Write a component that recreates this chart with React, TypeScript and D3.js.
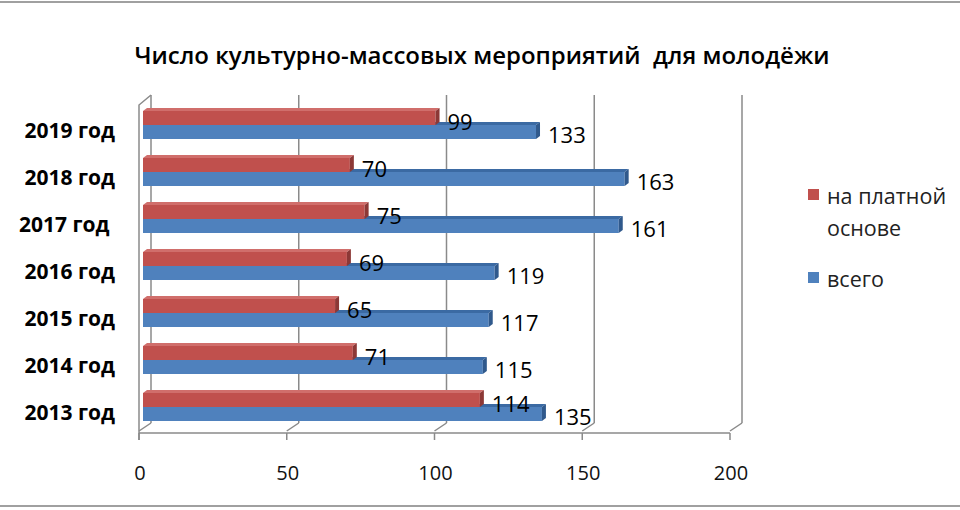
import React from "react";
import * as d3 from "d3";

const title = "Число культурно-массовых мероприятий  для молодёжи";
const categories = ["2013 год", "2014 год", "2015 год", "2016 год", "2017 год ", "2018 год", "2019 год"];
const paid = [114, 71, 65, 69, 75, 70, 99];
const total = [135, 115, 117, 119, 161, 163, 133];
const xTicks = [0, 50, 100, 150, 200];
const seriesNames = ["на платной основе", "всего"];
const legendLines = [["на платной", "основе"], ["всего"]];

const W = 960;
const H = 510;
const RED = "#c0504d";
const RED_DARK = "#8c3836";
const RED_TOP = "#d06e6b";
const BLUE = "#4f81bd";
const BLUE_DARK = "#30598c";
const BLUE_TOP = "#3b6aa3";
const GRID = "#8a8a8a";
const FONT = "'Open Sans', 'Noto Sans', sans-serif";

export default function App() {
  const xFront = d3.scaleLinear().domain([0, 200]).range([139, 730]);
  const depthX = 12;
  const depthY = 10;
  const xBar = d3.scaleLinear().domain([0, 200]).range([143, 734]);
  const y = d3
    .scaleBand<string>()
    .domain([...categories].reverse())
    .range([101.5, 430.5])
    .padding(0);
  const floorY = 433;
  const wallTop = 95;

  const bd = 4;
  const bdy = 3;
  const barH = 14;

  const bar = (v: number, yTop: number, col: string, dark: string, top: string, key: string) => {
    const x0 = xBar(0);
    const x1 = xBar(v);
    const yB = yTop + barH;
    return (
      <g key={key}>
        <polygon
          points={`${x0},${yTop} ${x1},${yTop} ${x1 + bd},${yTop - bdy} ${x0 + bd},${yTop - bdy}`}
          fill={top}
        />
        <rect x={x0} y={yTop} width={x1 - x0} height={barH} fill={col} />
        <polygon
          points={`${x1},${yTop} ${x1 + bd},${yTop - bdy} ${x1 + bd},${yB - bdy} ${x1},${yB}`}
          fill={dark}
        />
      </g>
    );
  };

  return (
    <div style={{ position: "absolute", left: 0, top: 0 }}>
      <svg width={W} height={H} style={{ display: "block", background: "#fff" }}>
        <line x1={0} x2={W} y1={2} y2={2} stroke="#a0a0a0" strokeWidth={2} />
        <line x1={0} x2={W} y1={506} y2={506} stroke="#a0a0a0" strokeWidth={2} />

        <text
          x={482}
          y={55}
          textAnchor="middle"
          dominantBaseline="central"
          fontFamily={FONT}
          fontWeight={600}
          fontSize={22.5}
          fill="#000"
          textLength={695}
          lengthAdjust="spacingAndGlyphs"
          style={{ whiteSpace: "pre" }}
        >
          {title}
        </text>

        {xTicks.map((t) => (
          <line
            key={"g" + t}
            x1={xFront(t) + depthX}
            x2={xFront(t) + depthX}
            y1={wallTop}
            y2={floorY - depthY}
            stroke={GRID}
            strokeWidth={1.5}
          />
        ))}
        <polyline
          points={`${xFront(0) + depthX},${wallTop} ${xFront(0)},${wallTop + depthY} ${xFront(0)},${floorY + 7}`}
          fill="none"
          stroke={GRID}
          strokeWidth={1.5}
        />
        <line x1={xFront(0)} x2={xFront(200)} y1={floorY} y2={floorY} stroke={GRID} strokeWidth={1.5} />
        {xTicks.map((t) => (
          <g key={"f" + t}>
            <line
              x1={xFront(t)}
              x2={xFront(t) + depthX}
              y1={floorY - 2}
              y2={floorY - depthY}
              stroke={GRID}
              strokeWidth={1.5}
            />
            <line x1={xFront(t)} x2={xFront(t)} y1={floorY} y2={floorY + 7} stroke={GRID} strokeWidth={1.5} />
            <text
              x={xFront(t) + 1}
              y={472}
              textAnchor="middle"
              dominantBaseline="central"
              fontFamily={FONT}
              fontSize={20}
              fill="#111"
            >
              {t}
            </text>
          </g>
        ))}

        {categories.map((c, i) => {
          const c0 = (y(c) as number) + y.bandwidth() / 2;
          return (
            <g key={c}>
              {bar(total[i], c0, BLUE, BLUE_DARK, BLUE_TOP, "b")}
              {bar(paid[i], c0 - barH, RED, RED_DARK, RED_TOP, "r")}
            </g>
          );
        })}
        {categories.map((c, i) => {
          const c0 = (y(c) as number) + y.bandwidth() / 2;
          return (
            <g key={"l" + c} fontFamily={FONT} fontSize={22} fill="#000">
              <text x={xBar(paid[i]) + bd + 8} y={c0 - 4} dominantBaseline="central" fontWeight={500}>
                {paid[i]}
              </text>
              <text x={xBar(total[i]) + bd + 8} y={c0 + 9} dominantBaseline="central" fontWeight={500}>
                {total[i]}
              </text>
              <text
                x={115}
                y={c0 + 5}
                textAnchor="end"
                dominantBaseline="central"
                fontWeight={700}
                fontSize={21}
                style={{ whiteSpace: "pre" }}
              >
                {c}
              </text>
            </g>
          );
        })}

        {seriesNames.map((s, i) => {
          const ly = i === 0 ? 195 : 278;
          return (
            <g key={s} fontFamily={FONT} fontSize={21.5} fill="#222">
              <rect x={808} y={ly - 6} width={11} height={11} fill={i === 0 ? RED : BLUE} />
              {legendLines[i].map((ln, j) => (
                <text key={j} x={827} y={ly + j * 32} dominantBaseline="central">
                  {ln}
                </text>
              ))}
            </g>
          );
        })}
      </svg>
    </div>
  );
}
